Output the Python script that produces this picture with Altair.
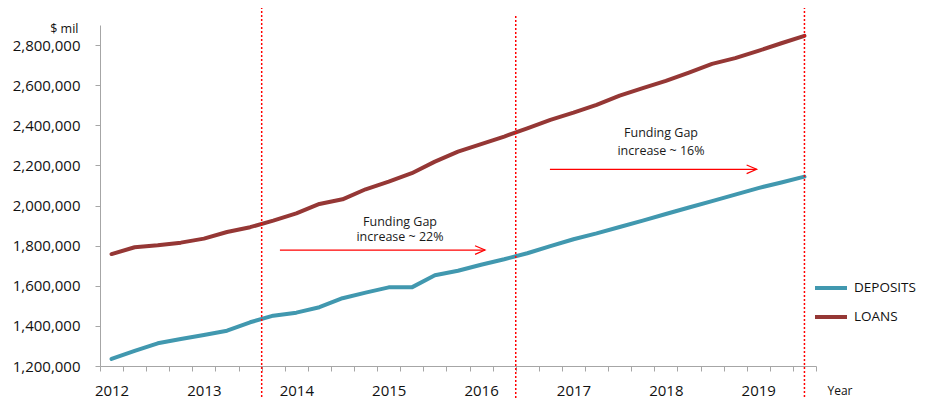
import altair as alt
import pandas as pd

# ---- data -------------------------------------------------------------
start_year = 2012
periods = [f"{y} Q{q}" for y in range(2012, 2020) for q in range(1, 5)][:31]

deposits = [1235000, 1275000, 1313000, 1335000, 1355000, 1376000, 1418000, 1451000,
            1466000, 1493000, 1538000, 1566000, 1592000, 1592000, 1652000, 1675000,
            1705000, 1732000, 1762000, 1798000, 1832000, 1861000, 1893000, 1925000,
            1958000, 1990000, 2022000, 2054000, 2087000, 2115000, 2144000]

loans = [1758000, 1792000, 1802000, 1815000, 1835000, 1868000, 1892000, 1925000,
         1961000, 2008000, 2031000, 2081000, 2119000, 2161000, 2219000, 2269000,
         2306000, 2344000, 2385000, 2427000, 2463000, 2502000, 2548000, 2585000,
         2621000, 2663000, 2706000, 2735000, 2771000, 2809000, 2846000]

series_names = ["DEPOSITS", "LOANS"]
series_colors = ["#4198AF", "#953735"]

y_ticks = [1200000, 1400000, 1600000, 1800000, 2000000, 2200000, 2400000, 2600000, 2800000]

# period markers (position in period index)
marker_idx = [6.5, 17.5, 30]

# annotations
note_idx = [12.49, 12.49, 23.79, 23.79]
note_val = [1919000, 1842000, 2360000, 2273000]
note_text = ["Funding Gap", "increase ~ 22%", "Funding Gap", "increase ~ 16%"]

arrow_start = [7.29, 18.98]
arrow_end = [16.17, 27.93]
arrow_val = [1778000, 2180600]

# ---- frames -----------------------------------------------------------
n = len(periods)
df = pd.DataFrame({
    "period": periods * 2,
    "idx": list(range(n)) * 2,
    "series": [series_names[0]] * n + [series_names[1]] * n,
    "value": deposits + loans,
})
markers = pd.DataFrame({"idx": marker_idx})
notes = pd.DataFrame({"idx": note_idx, "value": note_val, "label": note_text})
arrows = pd.DataFrame({"idx": arrow_start, "idx_end": arrow_end, "value": arrow_val})

FONT = "Open Sans"
AX = "#A6A6A6"

x_scale = alt.Scale(domain=[-0.5, n - 0.5], nice=False, zero=False)
y_scale = alt.Scale(domain=[1200000, 2900000], nice=False, zero=False)

label_expr = (f"((datum.value + 0.5) % 4 == 0) ? '' + ({start_year} + (datum.value + 0.5) / 4) : ''")

x_axis = alt.Axis(
    values=[i - 0.5 for i in range(n + 1)],
    labelExpr=label_expr,
    labelOffset=11.55,
    labelOverlap=False,
    labelFlush=False,
    labelBound=False,
    grid=False,
    domainColor=AX,
    tickColor=AX,
    tickSize=5,
    labelPadding=12,
    labelFont=FONT,
    labelFontSize=15,
    labelColor="#111111",
    title="Year",
    titleFont=FONT,
    titleFontSize=12,
    titleFontWeight="normal",
    titleColor="#111111",
    titleAngle=0,
    titleAlign="left",
    titleBaseline="middle",
    titleX=727,
    titleY=24,
)

y_axis = alt.Axis(
    values=y_ticks,
    labelExpr="format(datum.value, ',')",
    grid=False,
    domainColor=AX,
    tickColor=AX,
    tickSize=5,
    labelPadding=15,
    labelFont=FONT,
    labelFontSize=15,
    labelColor="#111111",
    title="$ mil",
    titleFont=FONT,
    titleFontSize=12.5,
    titleFontWeight="normal",
    titleColor="#111111",
    titleAngle=0,
    titleAlign="right",
    titleBaseline="middle",
    titleX=-22,
    titleY=3,
)

X = alt.X("idx:Q", scale=x_scale, axis=x_axis)
Y = alt.Y("value:Q", scale=y_scale, axis=y_axis)

lines = alt.Chart(df).mark_line(strokeWidth=4, strokeCap="round", strokeJoin="round").encode(
    x=X,
    y=Y,
    color=alt.Color(
        "series:N",
        scale=alt.Scale(domain=series_names, range=series_colors),
        legend=alt.Legend(
            title=None,
            orient="none",
            legendX=713,
            legendY=245,
            symbolType="stroke",
            symbolSize=1024,
            symbolStrokeWidth=4,
            labelFont=FONT,
            labelFontSize=13.5,
            labelColor="#111111",
            labelOffset=5,
            rowPadding=3,
        ),
    ),
    detail="series:N",
)

rules_a = alt.Chart(markers).transform_filter("datum.idx != 17.5").mark_rule(
    color="#FF0000", strokeDash=[2, 2], strokeWidth=1.5
).encode(x=X, y=alt.value(-18), y2=alt.value(385))

rules_b = alt.Chart(markers).transform_filter("datum.idx == 17.5").mark_rule(
    color="#FF0000", strokeDash=[2, 2], strokeWidth=1.5
).encode(x=X, y=alt.value(-9), y2=alt.value(385))

arrow_lines = alt.Chart(arrows).mark_rule(color="#FF0000", strokeWidth=1.2).encode(
    x=X, x2="idx_end:Q", y=Y
)

arrow_heads = alt.Chart(arrows).mark_point(
    shape="M-1,-0.43L0,0L-1,0.43", size=400, filled=False, color="#FF0000",
    strokeWidth=1.2, opacity=1
).encode(x=alt.X("idx_end:Q", scale=x_scale, axis=x_axis), y=Y)

texts = alt.Chart(notes).mark_text(
    font=FONT, fontSize=12.5, color="#1a1a1a", align="center", baseline="middle"
).encode(x=X, y=Y, text="label:N")

chart = alt.layer(lines, rules_a, rules_b, arrow_lines, arrow_heads, texts).properties(
    width=716,
    height=341,
    autosize=alt.AutoSizeParams(type="none"),
    padding={"left": 92, "top": 17, "right": 102, "bottom": 32},
).configure_view(stroke=None)

chart.save("out.html", embed_options={"renderer": "svg", "actions": False})
